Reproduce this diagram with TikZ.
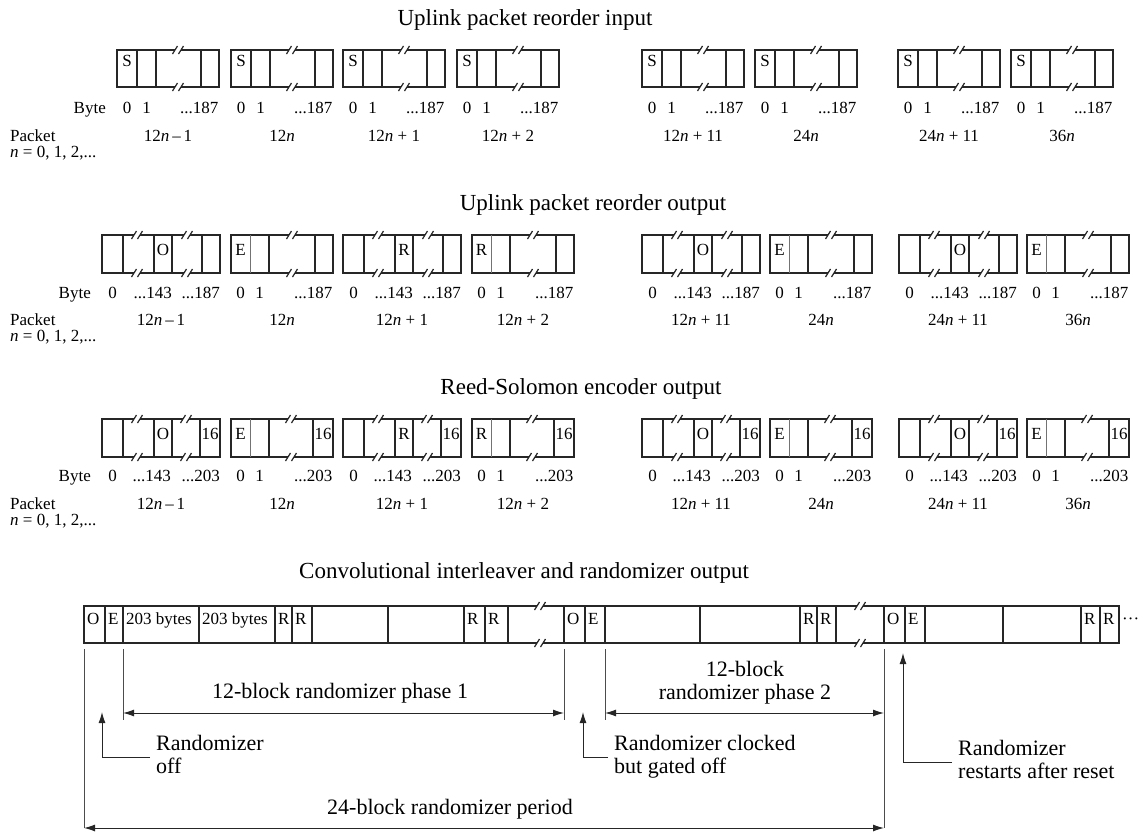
\documentclass[tikz,border=0pt]{standalone}
\usepackage{fontspec}
\setmainfont{Liberation Serif}
\usetikzlibrary{arrows.meta}
\newcommand{\lblfont}{\fontsize{17}{19}\selectfont}
\newcommand{\ttlfont}{\fontsize{23}{26}\selectfont}
\newcommand{\annfont}{\fontsize{22}{24}\selectfont}
\newcommand{\brkmark}[2]{%
  \fill[white] (#1-3,#2-2.2) rectangle (#1+3,#2+2.2);
  \draw[brkst] (#1-5.5,#2+4) -- (#1-0.5,#2-4);
  \draw[brkst] (#1+0.5,#2+4) -- (#1+5.5,#2-4);
}
\begin{document}
\begin{tikzpicture}[x=1pt,y=-1pt,
 bx/.style={line width=1.6pt,draw=black!85},
 bxthin/.style={line width=0.9pt,draw=black!55},
 brkst/.style={line width=1.2pt,draw=black!85},
 lbl/.style={font=\lblfont,inner sep=0pt,anchor=base},
 ttl/.style={font=\ttlfont,inner sep=0pt,anchor=base},
 ann/.style={font=\annfont,inner sep=0pt,anchor=base west},
 annc/.style={font=\annfont,inner sep=0pt,anchor=base},
 ext/.style={line width=0.8pt,draw=black!70},
 dimarr/.style={line width=1pt,draw=black!85,{Latex[length=11pt,width=7pt]}-{Latex[length=11pt,width=7pt]}},
 uparr/.style={line width=1pt,draw=black!85,-{Latex[length=11pt,width=7pt]}},
]
\useasboundingbox (0,0) rectangle (1142,836);

% ---------- Titles ----------
\node[ttl] (t1) at (525,25) {Uplink packet reorder input};
\node[ttl] (t2) at (593,210) {Uplink packet reorder output};
\node[ttl] (t3) at (581,394) {Reed-Solomon encoder output};
\node[ttl] (t4) at (524,578) {Convolutional interleaver and randomizer output};

% ---------- Row 1 ----------
\node[lbl,anchor=base east] (r1byte) at (106,113) {Byte};
\node[lbl,anchor=base west] (r1pk) at (10,141) {Packet};
\node[lbl,anchor=base west] (r1n) at (10,157) {\textit{n} = 0, 1, 2,...};
\foreach \L/\P [count=\i] in {117/{12\textit{n}\,–\,1},231/{12\textit{n}},343/{12\textit{n} + 1},457/{12\textit{n} + 2},642/{12\textit{n} + 11},755/{24\textit{n}},898/{24\textit{n} + 11},1011/{36\textit{n}}}{
  \draw[bx] (\L,50) rectangle (\L+102,87);
  \foreach \d in {20,39,84} \draw[bx] (\L+\d,50) -- (\L+\d,87);
  \brkmark{\L+61}{50}\brkmark{\L+61}{87}
  \node[lbl] (a\i-s) at (\L+10,66) {S};
  \node[lbl] (a\i-0) at (\L+10,113) {0};
  \node[lbl] (a\i-1) at (\L+29.5,113) {1};
  \node[lbl,anchor=base east] (a\i-e) at (\L+101.5,113) {...187};
  \node[lbl] (a\i-p) at (\L+51,141) {\P};
}

% ---------- Row 2 ----------
\node[lbl,anchor=base east] (r2byte) at (91,298) {Byte};
\node[lbl,anchor=base west] (r2pk) at (10,325) {Packet};
\node[lbl,anchor=base west] (r2n) at (10,341) {\textit{n} = 0, 1, 2,...};
\foreach \L/\C/\P [count=\i] in {102/O/{12\textit{n}\,–\,1},343/R/{12\textit{n} + 1},642/O/{12\textit{n} + 11},899/O/{24\textit{n} + 11}}{
  \draw[bx] (\L,235) rectangle (\L+118,273);
  \foreach \d in {21,52,70,100} \draw[bx] (\L+\d,235) -- (\L+\d,273);
  \brkmark{\L+35}{235}\brkmark{\L+35}{273}\brkmark{\L+85}{235}\brkmark{\L+85}{273}
  \node[lbl] (bo\i-c) at (\L+61,255) {\C};
  \node[lbl] (bo\i-0) at (\L+10.5,298) {0};
  \node[lbl,anchor=base east] (bo\i-m) at (\L+70,298) {...143};
  \node[lbl,anchor=base east] (bo\i-e) at (\L+118,298) {...187};
  \node[lbl] (bo\i-p) at (\L+59,325) {\P};
}
\foreach \L/\C/\P [count=\i] in {231/E/{12\textit{n}},472/R/{12\textit{n} + 2},770/E/{24\textit{n}},1027/E/{36\textit{n}}}{
  \draw[bx] (\L,235) rectangle (\L+102,273);
  \draw[bxthin] (\L+19,235) -- (\L+19,273);
  \foreach \d in {38,84} \draw[bx] (\L+\d,235) -- (\L+\d,273);
  \brkmark{\L+61}{235}\brkmark{\L+61}{273}
  \node[lbl] (be\i-c) at (\L+9.5,255) {\C};
  \node[lbl] (be\i-0) at (\L+9.5,298) {0};
  \node[lbl] (be\i-1) at (\L+28.5,298) {1};
  \node[lbl,anchor=base east] (be\i-e) at (\L+101.5,298) {...187};
  \node[lbl] (be\i-p) at (\L+51,325) {\P};
}

% ---------- Row 3 ----------
\node[lbl,anchor=base east] (r3byte) at (91,481) {Byte};
\node[lbl,anchor=base west] (r3pk) at (10,509) {Packet};
\node[lbl,anchor=base west] (r3n) at (10,525) {\textit{n} = 0, 1, 2,...};
\foreach \L/\C/\P [count=\i] in {102/O/{12\textit{n}\,–\,1},343/R/{12\textit{n} + 1},642/O/{12\textit{n} + 11},899/O/{24\textit{n} + 11}}{
  \draw[bx] (\L,419) rectangle (\L+118,457);
  \foreach \d in {21,52,70,98} \draw[bx] (\L+\d,419) -- (\L+\d,457);
  \brkmark{\L+35}{419}\brkmark{\L+35}{457}\brkmark{\L+84}{419}\brkmark{\L+84}{457}
  \node[lbl] (co\i-c) at (\L+61,439) {\C};
  \node[lbl] (co\i-x) at (\L+108,439) {16};
  \node[lbl] (co\i-0) at (\L+10.5,481) {0};
  \node[lbl,anchor=base east] (co\i-m) at (\L+69,481) {...143};
  \node[lbl,anchor=base east] (co\i-e) at (\L+118,481) {...203};
  \node[lbl] (co\i-p) at (\L+59,509) {\P};
}
\foreach \L/\C/\P [count=\i] in {231/E/{12\textit{n}},472/R/{12\textit{n} + 2},770/E/{24\textit{n}},1027/E/{36\textit{n}}}{
  \draw[bx] (\L,419) rectangle (\L+102,457);
  \draw[bxthin] (\L+19,419) -- (\L+19,457);
  \foreach \d in {38,82} \draw[bx] (\L+\d,419) -- (\L+\d,457);
  \brkmark{\L+60}{419}\brkmark{\L+60}{457}
  \node[lbl] (ce\i-c) at (\L+9.5,439) {\C};
  \node[lbl] (ce\i-x) at (\L+92,439) {16};
  \node[lbl] (ce\i-0) at (\L+9.5,481) {0};
  \node[lbl] (ce\i-1) at (\L+28.5,481) {1};
  \node[lbl,anchor=base east] (ce\i-e) at (\L+101.5,481) {...203};
  \node[lbl] (ce\i-p) at (\L+51,509) {\P};
}

% ---------- Row 4 (bar) ----------
\draw[bx] (84,606) rectangle (1119,643);
\foreach \x in {105,123,199,275,292,312,388,464,485,508,564,585,605,700,800,817,836,884,905,925,1003,1081,1100}
  \draw[bx] (\x,606) -- (\x,643);
\brkmark{540}{606}\brkmark{540}{643}\brkmark{860}{606}\brkmark{860}{643}
\foreach \x/\t [count=\i] in {84/O,105/E,123/{203 bytes},199/{203 bytes},275/R,292/R,464/R,485/R,564/O,585/E,800/R,817/R,884/O,905/E,1081/R,1100/R}
  \node[lbl,anchor=base west] (d\i) at (\x+3,624) {\t};
\node[lbl,anchor=base west] (dots) at (1122,624) {···};

% ---------- Annotations ----------
\coordinate (x1t) at (84,649);  \coordinate (x1b) at (84,828);
\coordinate (x2t) at (123,649); \coordinate (x2b) at (123,720);
\coordinate (x3t) at (564,649); \coordinate (x3b) at (564,720);
\coordinate (x4t) at (605,649); \coordinate (x4b) at (605,720);
\coordinate (x5t) at (884,649); \coordinate (x5b) at (884,828);
\draw[ext] (x1t) -- (x1b);
\draw[ext] (x2t) -- (x2b);
\draw[ext] (x3t) -- (x3b);
\draw[ext] (x4t) -- (x4b);
\draw[ext] (x5t) -- (x5b);
\coordinate (ph1a) at (123,713); \coordinate (ph1b) at (564,713);
\coordinate (ph2a) at (605,713); \coordinate (ph2b) at (884,713);
\coordinate (pera) at (84,828);  \coordinate (perb) at (884,828);
\draw[dimarr] (ph1a) -- (ph1b);
\draw[dimarr] (ph2a) -- (ph2b);
\draw[dimarr] (pera) -- (perb);
\node[annc] (ph1t) at (340,698) {12-block randomizer phase 1};
\node[annc] (ph2t1) at (745,676) {12-block};
\node[annc] (ph2t2) at (745,699) {randomizer phase 2};
\node[annc] (pert) at (450,814) {24-block randomizer period};

\coordinate (u1e) at (150,757); \coordinate (u1c) at (102,757); \coordinate (u1t) at (102,712);
\draw[uparr] (u1e) -- (u1c) -- (u1t);
\node[ann] (off1) at (156,750) {Randomizer};
\node[ann] (off2) at (156,773) {off};

\coordinate (u2e) at (608,757); \coordinate (u2c) at (583,757); \coordinate (u2t) at (583,712);
\draw[uparr] (u2e) -- (u2c) -- (u2t);
\node[ann] (clk1) at (614,750) {Randomizer clocked};
\node[ann] (clk2) at (614,773) {but gated off};

\coordinate (u3e) at (952,762); \coordinate (u3c) at (903,762); \coordinate (u3t) at (903,653);
\draw[uparr] (u3e) -- (u3c) -- (u3t);
\node[ann] (rst1) at (958,755) {Randomizer};
\node[ann] (rst2) at (958,778) {restarts after reset};
\end{tikzpicture}
\end{document}
